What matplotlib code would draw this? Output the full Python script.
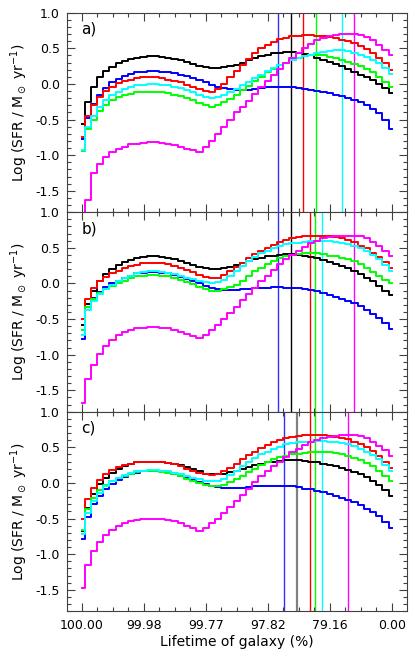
import numpy as np
import matplotlib
matplotlib.use('Agg')
import matplotlib.pyplot as plt
from matplotlib.ticker import MultipleLocator

# eje x: 51 bins (posicion 0..5), etiquetas no lineales
tick_pos = [0, 1, 2, 3, 4, 5]
tick_labels = ['100.00', '99.98', '99.77', '97.82', '79.16', '0.00']
xbin = np.arange(51) / 10.0

# ---- panel a) ----
a_black = [-0.56, -0.25, -0.05, 0.10, 0.18, 0.24, 0.29, 0.32, 0.35, 0.37,
           0.38, 0.39, 0.39, 0.38, 0.37, 0.35, 0.33, 0.31, 0.28, 0.25,
           0.23, 0.22, 0.22, 0.23, 0.25, 0.27, 0.30, 0.33, 0.36, 0.39,
           0.41, 0.43, 0.44, 0.45, 0.45, 0.44, 0.42, 0.40, 0.37, 0.34,
           0.31, 0.28, 0.25, 0.21, 0.17, 0.13, 0.09, 0.05, 0.00, -0.06, -0.13]
a_blue = [-0.78, -0.48, -0.28, -0.15, -0.06, 0.02, 0.07, 0.11, 0.14, 0.16,
          0.17, 0.18, 0.18, 0.17, 0.16, 0.15, 0.13, 0.11, 0.08, 0.05,
          0.02, -0.01, -0.04, -0.06, -0.07, -0.08, -0.08, -0.08, -0.07, -0.06,
          -0.05, -0.05, -0.04, -0.05, -0.05, -0.06, -0.07, -0.08, -0.10, -0.12,
          -0.13, -0.15, -0.17, -0.20, -0.23, -0.26, -0.30, -0.35, -0.41, -0.50, -0.63]
a_red = [-0.75, -0.45, -0.30, -0.18, -0.10, -0.04, 0.01, 0.04, 0.06, 0.08,
         0.09, 0.09, 0.09, 0.08, 0.06, 0.04, 0.02, -0.01, -0.04, -0.07,
         -0.10, -0.12, -0.07, 0.00, 0.09, 0.18, 0.27, 0.35, 0.43, 0.50,
         0.55, 0.59, 0.63, 0.65, 0.67, 0.67, 0.68, 0.68, 0.67, 0.67,
         0.66, 0.64, 0.62, 0.60, 0.57, 0.53, 0.49, 0.43, 0.37, 0.29, 0.20]
a_cyan = [-0.93, -0.60, -0.45, -0.32, -0.23, -0.16, -0.11, -0.07, -0.04, -0.02,
          -0.01, 0.00, 0.00, -0.01, -0.02, -0.04, -0.06, -0.09, -0.12, -0.15,
          -0.18, -0.20, -0.19, -0.16, -0.12, -0.07, -0.02, 0.03, 0.08, 0.13,
          0.18, 0.22, 0.26, 0.30, 0.33, 0.36, 0.39, 0.41, 0.43, 0.45,
          0.46, 0.47, 0.47, 0.46, 0.44, 0.41, 0.38, 0.34, 0.29, 0.22, 0.14]
a_green = [-0.94, -0.64, -0.50, -0.38, -0.29, -0.23, -0.19, -0.16, -0.14, -0.12,
           -0.11, -0.11, -0.11, -0.12, -0.13, -0.15, -0.17, -0.20, -0.23, -0.27,
           -0.30, -0.32, -0.30, -0.26, -0.21, -0.15, -0.09, -0.03, 0.04, 0.10,
           0.16, 0.21, 0.26, 0.30, 0.34, 0.37, 0.39, 0.40, 0.40, 0.40,
           0.38, 0.36, 0.34, 0.31, 0.28, 0.25, 0.21, 0.16, 0.10, 0.03, -0.05]
a_magenta = [-1.90, -1.63, -1.25, -1.12, -1.03, -0.96, -0.91, -0.88, -0.85, -0.84,
             -0.83, -0.82, -0.82, -0.83, -0.84, -0.86, -0.88, -0.91, -0.93, -0.95,
             -0.88, -0.80, -0.70, -0.60, -0.50, -0.40, -0.32, -0.24, -0.14, -0.05,
             0.04, 0.12, 0.21, 0.29, 0.36, 0.43, 0.50, 0.56, 0.61, 0.65,
             0.67, 0.69, 0.70, 0.70, 0.70, 0.69, 0.66, 0.61, 0.55, 0.48, 0.41]
a_vlines = [3.16, 3.37, 3.57, 3.78, 4.19, 4.39]

# ---- panel b) ----
b_black = [-0.58, -0.29, -0.10, 0.04, 0.13, 0.20, 0.26, 0.30, 0.33, 0.36,
           0.37, 0.38, 0.38, 0.37, 0.36, 0.34, 0.32, 0.29, 0.26, 0.23,
           0.21, 0.20, 0.20, 0.21, 0.23, 0.26, 0.29, 0.31, 0.34, 0.36,
           0.38, 0.39, 0.40, 0.41, 0.41, 0.40, 0.39, 0.37, 0.35, 0.33,
           0.30, 0.27, 0.24, 0.21, 0.17, 0.13, 0.08, 0.03, -0.03, -0.10, -0.17]
b_blue = [-0.78, -0.33, -0.20, -0.12, -0.05, 0.00, 0.04, 0.08, 0.11, 0.14,
          0.15, 0.16, 0.16, 0.15, 0.14, 0.12, 0.09, 0.06, 0.03, 0.00,
          -0.03, -0.06, -0.08, -0.09, -0.09, -0.09, -0.08, -0.08, -0.07, -0.06,
          -0.06, -0.05, -0.05, -0.06, -0.06, -0.07, -0.08, -0.09, -0.11, -0.13,
          -0.17, -0.19, -0.22, -0.25, -0.28, -0.32, -0.37, -0.43, -0.49, -0.56, -0.64]
b_red = [-0.50, -0.22, -0.07, 0.03, 0.09, 0.14, 0.18, 0.21, 0.24, 0.26,
         0.28, 0.29, 0.29, 0.28, 0.27, 0.25, 0.22, 0.19, 0.16, 0.12,
         0.09, 0.07, 0.08, 0.12, 0.17, 0.23, 0.29, 0.35, 0.41, 0.46,
         0.50, 0.54, 0.58, 0.61, 0.63, 0.65, 0.66, 0.66, 0.67, 0.67,
         0.66, 0.65, 0.63, 0.61, 0.58, 0.53, 0.49, 0.43, 0.37, 0.30, 0.22]
b_cyan = [-0.73, -0.38, -0.25, -0.15, -0.08, -0.02, 0.03, 0.07, 0.11, 0.14,
          0.16, 0.17, 0.17, 0.16, 0.15, 0.13, 0.11, 0.08, 0.06, 0.04,
          0.02, 0.01, 0.02, 0.05, 0.10, 0.17, 0.24, 0.31, 0.37, 0.42,
          0.46, 0.50, 0.53, 0.55, 0.56, 0.57, 0.58, 0.59, 0.59, 0.59,
          0.59, 0.58, 0.57, 0.55, 0.52, 0.49, 0.45, 0.40, 0.34, 0.26, 0.17]
b_green = [-0.65, -0.33, -0.22, -0.14, -0.08, -0.03, 0.01, 0.04, 0.07, 0.10,
           0.11, 0.12, 0.12, 0.11, 0.10, 0.08, 0.05, 0.02, -0.01, -0.05,
           -0.08, -0.10, -0.10, -0.08, -0.05, -0.02, 0.04, 0.11, 0.17, 0.22,
           0.27, 0.32, 0.35, 0.38, 0.40, 0.41, 0.42, 0.42, 0.42, 0.41,
           0.39, 0.38, 0.36, 0.34, 0.31, 0.27, 0.22, 0.16, 0.10, 0.05, 0.01]
b_magenta = [-1.68, -1.34, -1.14, -0.99, -0.88, -0.79, -0.73, -0.68, -0.65, -0.63,
             -0.62, -0.61, -0.61, -0.62, -0.63, -0.65, -0.68, -0.71, -0.74, -0.77,
             -0.72, -0.65, -0.58, -0.50, -0.42, -0.33, -0.24, -0.15, -0.06, 0.03,
             0.11, 0.19, 0.27, 0.34, 0.40, 0.46, 0.51, 0.56, 0.60, 0.63,
             0.65, 0.66, 0.67, 0.67, 0.67, 0.66, 0.63, 0.58, 0.53, 0.46, 0.39]
b_vlines = [3.16, 3.37, 3.68, 3.77, 3.88, 4.39]

# ---- panel c) ----
c_black = [-0.68, -0.35, -0.15, -0.02, 0.07, 0.14, 0.20, 0.24, 0.27, 0.29,
           0.29, 0.30, 0.30, 0.29, 0.28, 0.27, 0.25, 0.22, 0.19, 0.16,
           0.13, 0.12, 0.12, 0.13, 0.15, 0.17, 0.20, 0.22, 0.25, 0.27,
           0.29, 0.30, 0.31, 0.32, 0.32, 0.32, 0.31, 0.30, 0.29, 0.27,
           0.25, 0.23, 0.21, 0.18, 0.15, 0.12, 0.08, 0.03, -0.03, -0.10, -0.18]
c_blue = [-0.79, -0.48, -0.30, -0.18, -0.09, -0.02, 0.04, 0.08, 0.12, 0.14,
          0.16, 0.17, 0.17, 0.16, 0.15, 0.13, 0.10, 0.07, 0.04, 0.01,
          -0.02, -0.04, -0.06, -0.07, -0.07, -0.07, -0.07, -0.06, -0.05, -0.05,
          -0.04, -0.04, -0.04, -0.05, -0.05, -0.06, -0.08, -0.09, -0.11, -0.13,
          -0.15, -0.18, -0.21, -0.24, -0.27, -0.31, -0.36, -0.41, -0.47, -0.55, -0.64]
c_red = [-0.50, -0.23, -0.07, 0.04, 0.12, 0.18, 0.22, 0.25, 0.27, 0.29,
         0.30, 0.30, 0.30, 0.29, 0.28, 0.26, 0.23, 0.20, 0.17, 0.14,
         0.12, 0.11, 0.12, 0.16, 0.21, 0.27, 0.33, 0.39, 0.44, 0.49,
         0.53, 0.57, 0.60, 0.63, 0.65, 0.66, 0.67, 0.67, 0.67, 0.67,
         0.66, 0.65, 0.63, 0.61, 0.58, 0.54, 0.50, 0.45, 0.38, 0.30, 0.21]
c_cyan = [-0.72, -0.42, -0.26, -0.14, -0.05, 0.02, 0.07, 0.11, 0.14, 0.16,
          0.17, 0.18, 0.18, 0.17, 0.16, 0.14, 0.12, 0.10, 0.07, 0.05,
          0.03, 0.02, 0.03, 0.06, 0.11, 0.17, 0.23, 0.29, 0.35, 0.40,
          0.44, 0.48, 0.51, 0.54, 0.56, 0.57, 0.58, 0.58, 0.59, 0.59,
          0.58, 0.57, 0.56, 0.54, 0.52, 0.48, 0.44, 0.39, 0.33, 0.25, 0.16]
c_green = [-0.66, -0.36, -0.21, -0.10, -0.03, 0.03, 0.07, 0.10, 0.13, 0.15,
           0.16, 0.16, 0.16, 0.15, 0.14, 0.12, 0.09, 0.06, 0.03, 0.00,
           -0.03, -0.05, -0.05, -0.03, 0.01, 0.05, 0.10, 0.15, 0.20, 0.25,
           0.29, 0.33, 0.36, 0.38, 0.40, 0.41, 0.42, 0.43, 0.43, 0.43,
           0.43, 0.42, 0.40, 0.38, 0.35, 0.32, 0.28, 0.23, 0.17, 0.10, 0.02]
c_magenta = [-1.47, -1.15, -0.96, -0.83, -0.73, -0.66, -0.61, -0.57, -0.54, -0.52,
             -0.51, -0.50, -0.50, -0.51, -0.52, -0.54, -0.57, -0.60, -0.64, -0.68,
             -0.64, -0.57, -0.50, -0.42, -0.34, -0.25, -0.17, -0.08, 0.01, 0.09,
             0.16, 0.23, 0.30, 0.37, 0.43, 0.48, 0.53, 0.57, 0.60, 0.63,
             0.65, 0.66, 0.67, 0.67, 0.67, 0.66, 0.63, 0.58, 0.52, 0.46, 0.38]
c_vlines = [3.27, 3.47, 3.68, 3.77, 3.88, 4.29]

colores = ['#0000ff', '#000000', '#ff0000', '#00ff00', '#00ffff', '#ff00ff']
vcolores = ['#3030ff', '#000000', '#ff0000', '#00ff00', '#00ffff', '#ff00ff']

paneles = [
    ('a)', [a_blue, a_black, a_red, a_green, a_cyan, a_magenta], a_vlines),
    ('b)', [b_blue, b_black, b_red, b_green, b_cyan, b_magenta], b_vlines),
    ('c)', [c_blue, c_black, c_red, c_green, c_cyan, c_magenta], c_vlines),
]

plt.rcParams['font.family'] = 'DejaVu Sans'
fig, axs = plt.subplots(3, 1, figsize=(4.15, 6.65), dpi=100, sharex=True)
fig.subplots_adjust(left=0.161, right=0.981, top=0.981, bottom=0.081, hspace=0)

for ax, (etiqueta, curvas, vlin) in zip(axs, paneles):
    # lineas verticales
    for xv, c in zip(vlin, vcolores):
        col = '#808080' if (etiqueta == 'c)' and c == '#000000') else c
        lw = 1.6 if col == '#808080' else 1.0
        ax.axvline(xv, color=col, lw=lw, zorder=1)
    # curvas tipo histograma
    for y, c in zip(curvas, colores):
        ax.plot(xbin, y, drawstyle='steps-mid', color=c, lw=1.4, zorder=2)
    ax.set_xlim(-0.237, 5.247)
    ax.set_ylim(-1.8, 1.0)
    ax.yaxis.set_major_locator(MultipleLocator(0.5))
    ax.yaxis.set_minor_locator(MultipleLocator(0.1))
    ax.set_xticks(tick_pos)
    ax.xaxis.set_minor_locator(MultipleLocator(0.25))
    ax.tick_params(which='both', direction='in', top=True, right=True,
                   labelsize=9, color='#404040')
    ax.tick_params(which='major', length=6, width=0.8)
    ax.tick_params(which='minor', length=3, width=0.8)
    ax.tick_params(axis='y', pad=5)
    ax.set_yticklabels(['-1.5', '-1.0', '-0.5', '0.0', '0.5', '1.0'])
    ax.set_yticks([-1.5, -1.0, -0.5, 0.0, 0.5, 1.0])
    for s in ax.spines.values():
        s.set_linewidth(0.8)
        s.set_color('#404040')
    ax.set_ylabel(r'Log (SFR / M$_\odot$ yr$^{-1}$)', fontsize=10, labelpad=4)
    ax.text(0.0, 0.77, etiqueta, fontsize=11, ha='left', va='center')

axs[-1].set_xticklabels(tick_labels)
axs[-1].tick_params(axis='x', pad=6)
axs[-1].set_xlabel('Lifetime of galaxy (%)', fontsize=10, labelpad=2)

fig.savefig('out.png', dpi=100)
